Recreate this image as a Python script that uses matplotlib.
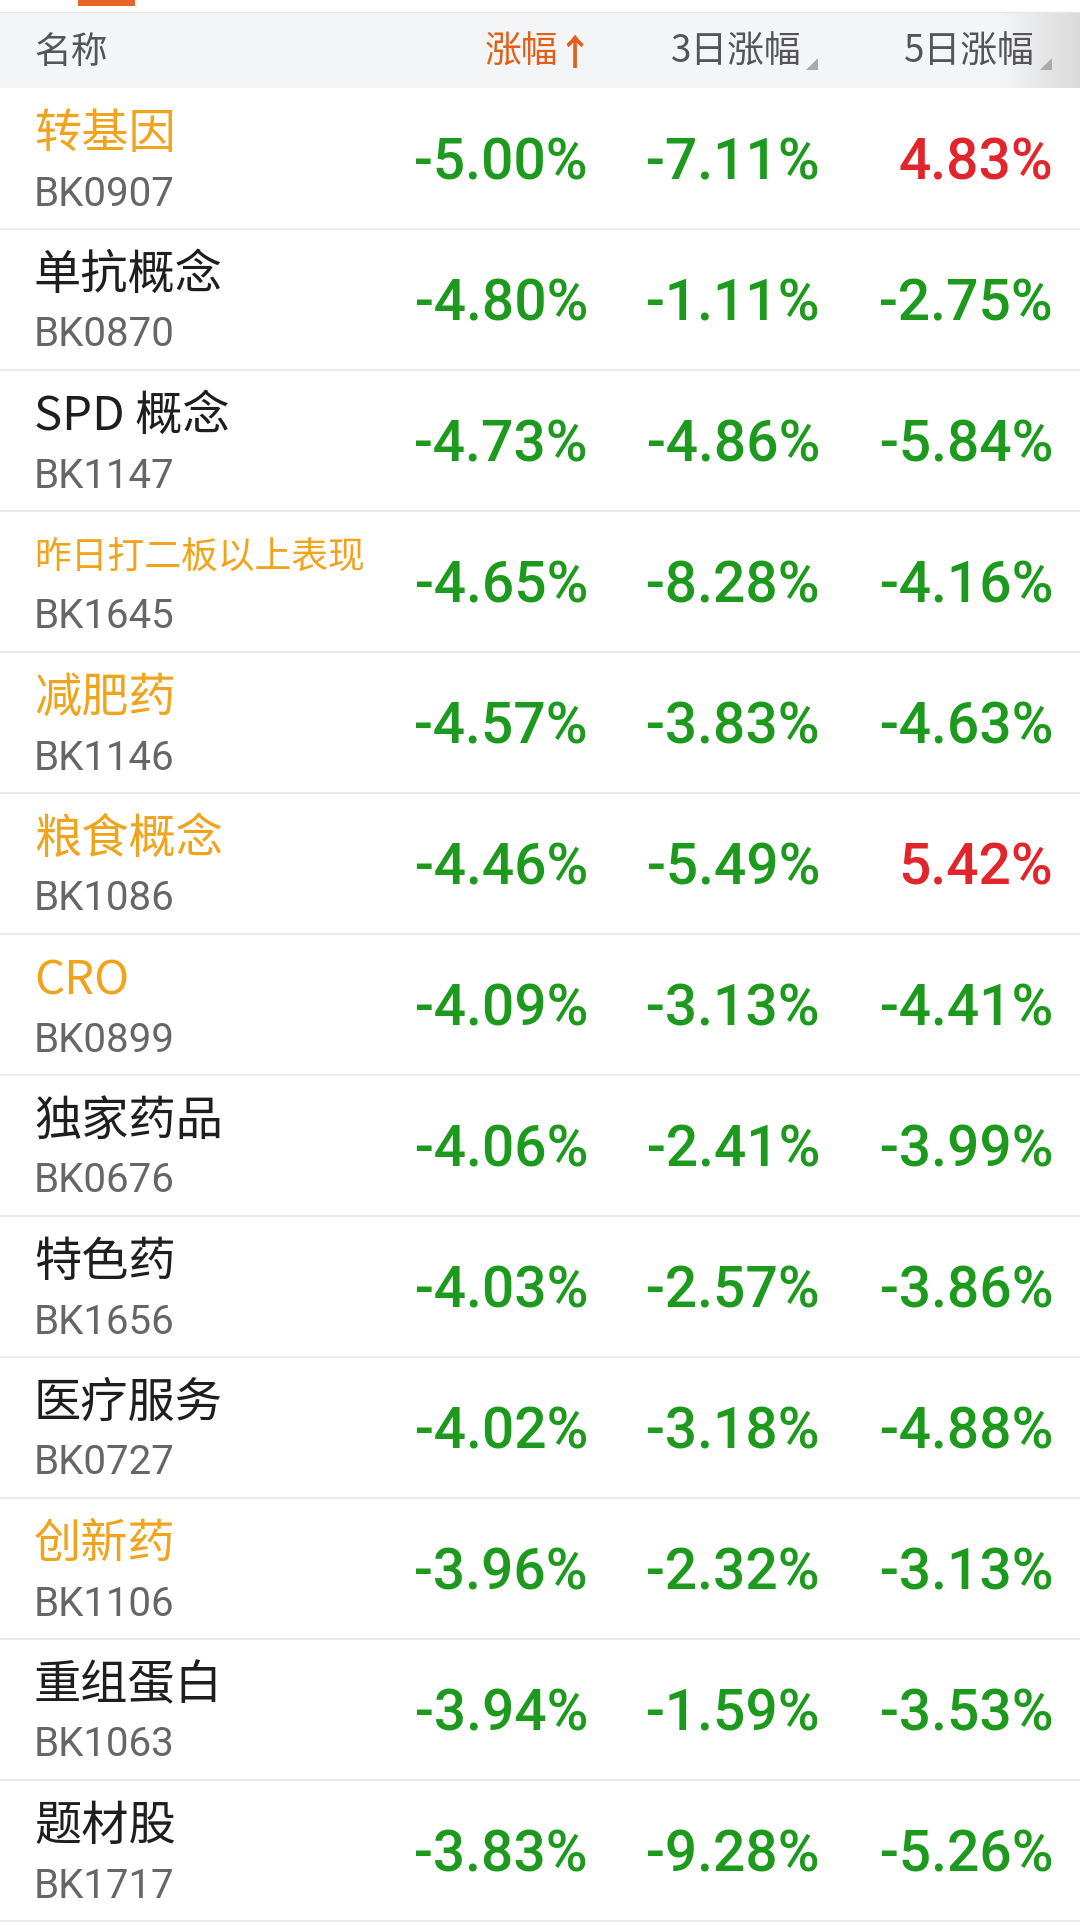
import matplotlib
matplotlib.use("Agg")
import matplotlib.pyplot as plt
import numpy as np
from matplotlib.colors import LinearSegmentedColormap

names = ["转基因", "单抗概念", "SPD 概念", "昨日打二板以上表现", "减肥药", "粮食概念", "CRO",
         "独家药品", "特色药", "医疗服务", "创新药", "重组蛋白", "题材股"]
codes = ["BK0907", "BK0870", "BK1147", "BK1645", "BK1146", "BK1086", "BK0899",
         "BK0676", "BK1656", "BK0727", "BK1106", "BK1063", "BK1717"]
highlight = [True, False, False, True, True, True, True, False, False, False, True, False, False]
chg_1d = [-5.00, -4.80, -4.73, -4.65, -4.57, -4.46, -4.09, -4.06, -4.03, -4.02, -3.96, -3.94, -3.83]
chg_3d = [-7.11, -1.11, -4.86, -8.28, -3.83, -5.49, -3.13, -2.41, -2.57, -3.18, -2.32, -1.59, -9.28]
chg_5d = [4.83, -2.75, -5.84, -4.16, -4.63, 5.42, -4.41, -3.99, -3.86, -4.88, -3.13, -3.53, -5.26]
headers = ["名称", "涨幅", "3日涨幅", "5日涨幅"]

W, H = 1080, 1925
fig = plt.figure(figsize=(W / 100, H / 100), dpi=100)
ax = fig.add_axes([0, 0, 1, 1])
ax.set_xlim(0, W)
ax.set_ylim(H, 0)
ax.axis("off")

CJK = ["Noto Sans CJK SC", "DejaVu Sans"]
NUM = ["Roboto", "DejaVu Sans"]
GREEN = "#1d9a1d"
RED = "#e0262c"
ORANGE = "#f0a41e"
DARK = "#1e1e1e"
GRAY = "#666666"

# top tab remnant
ax.add_patch(plt.Rectangle((78, 0), 57, 6, color="#e8652a", lw=0))
ax.plot([0, W], [12, 12], color="#e6e6e6", lw=1)

# header background
hy0, hy1 = 13, 88
ax.add_patch(plt.Rectangle((0, hy0), W, hy1 - hy0, color="#f4f5f7", lw=0))
grad = np.linspace(0, 1, 100).reshape(1, -1)
cm = LinearSegmentedColormap.from_list("g", ["#f4f5f7", "#dadada"])
ax.imshow(grad, extent=(1000, W, hy1, hy0), cmap=cm, aspect="auto", zorder=1)

hcy = 52
ax.text(34, hcy, headers[0], fontsize=26.5, color="#555555", family=CJK, ha="left", va="center", zorder=3)
ax.text(558, hcy, headers[1], fontsize=26.5, color="#e0601a", family=CJK, ha="right", va="center", zorder=3)
ax.text(575, hcy + 2, "↑", fontsize=26, color="#e0601a", family=CJK, ha="center", va="center",
        fontweight="bold", zorder=3)
ax.text(802, hcy, headers[2], fontsize=26.5, color="#555555", family=CJK, ha="right", va="center", zorder=3)
ax.text(1035, hcy, headers[3], fontsize=26.5, color="#555555", family=CJK, ha="right", va="center", zorder=3)
for xr in (818, 1052):
    ax.add_patch(plt.Polygon([[xr, 58], [xr, 70], [xr - 12, 70]], color="#aaaaaa", lw=0, zorder=3))

row_h = 141

def fmt(v):
    return f"{v:.2f}%"

for i, nm in enumerate(names):
    top = hy1 + i * row_h
    fs = 26.5 if len(nm) > 6 else 34
    ax.text(34, top + 47, nm, fontsize=fs, color=ORANGE if highlight[i] else DARK,
            family=CJK, fontweight="medium", ha="left", va="center")
    ax.text(34, top + 106, codes[i], fontsize=29, color=GRAY, family=NUM, ha="left", va="center")
    for x, vals in ((588, chg_1d), (820, chg_3d), (1053, chg_5d)):
        v = vals[i]
        ax.text(x, top + 76, fmt(v), fontsize=41, color=RED if v > 0 else GREEN,
                family=NUM, fontweight="medium", ha="right", va="center")
    ax.plot([0, W], [top + row_h, top + row_h], color="#e8e8e8", lw=1.2)

fig.savefig("out.png", dpi=100, facecolor="white")
